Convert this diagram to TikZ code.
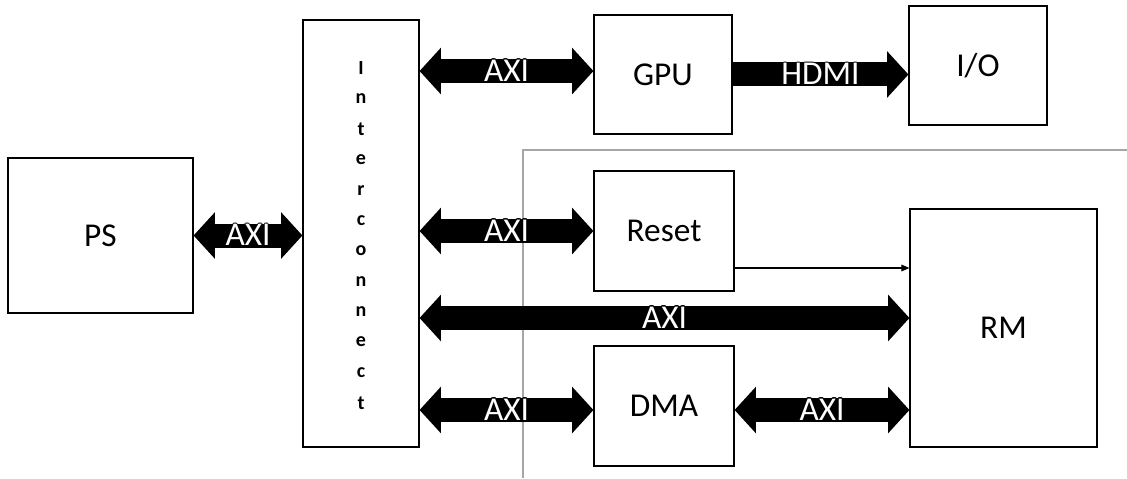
\documentclass[tikz,border=0pt]{standalone}
\usepackage{fontspec}
\setmainfont{Carlito}
\usepackage{contour}
\usetikzlibrary{arrows.meta,calc}
\contourlength{0.6pt}
\tikzset{
  blk/.style={draw, line width=0.9pt, inner sep=0pt, font=\fontsize{25}{29}\selectfont},
  tipbus/.tip={Triangle[length=16pt, width=35pt, line width=0pt]},
  bus/.style={line width=18pt, tipbus-tipbus},
  busone/.style={line width=18pt, -tipbus},
  buslbl/.style={midway, inner sep=0pt, font=\fontsize{25}{29}\selectfont}
}
\newcommand{\buslabel}[1]{\contour{black}{\textcolor{white}{#1}}}
\begin{document}
\begin{tikzpicture}
    [x=0.75pt,y=-0.75pt]
    \useasboundingbox (0,0) rectangle (1127,478);
    %region border
    \draw[gray!70, line width=1pt] (1127,150)--(523,150)--(523,478);
    %blocks
    \node[blk, minimum width=138.75pt, minimum height=116.25pt] (ps) at (100.5,235.5) {PS};
    \node[blk, minimum width=87pt, minimum height=320.25pt] (ic) at (361,233.5) {};
    \node[blk, minimum width=103.5pt, minimum height=89.25pt] (gpu) at (663,74.5) {GPU};
    \node[blk, minimum width=103.5pt, minimum height=89.25pt] (io) at (978,65.5) {I/O};
    \node[blk, minimum width=105pt, minimum height=90pt] (reset) at (664,231) {Reset};
    \node[blk, minimum width=140.25pt, minimum height=178.5pt] (rm) at (1003.5,328) {RM};
    \node[blk, minimum width=105pt, minimum height=90pt] (dma) at (664,406) {DMA};
    %interconnect label
    \foreach \ch [count=\i from 0] in {I,n,t,e,r,c,o,n,n,e,c,t}
      \node[inner sep=0pt, font=\bfseries\fontsize{15}{16}\selectfont] (ic-\i) at (361,{68.5+30.4*\i}) {\ch};
    %buses
    \coordinate (gpuin) at ([yshift=2.6pt]gpu.west);
    \coordinate (rmin) at ([yshift=7.5pt]rm.west);
    \coordinate (dmain) at ([yshift=-3pt]dma.west);
    \coordinate (rstout) at ([yshift=-27.75pt]reset.east);
    \draw[bus] (ps.east) -- (ps.east -| ic.west) node[buslbl]{\buslabel{AXI}};
    \draw[bus] (ic.east |- gpuin) -- (gpuin) node[buslbl]{\buslabel{AXI}};
    \draw[busone] (gpu.east) -- (gpu.east -| io.west) node[buslbl]{\buslabel{HDMI}};
    \draw[bus] (ic.east |- reset.west) -- (reset.west) node[buslbl]{\buslabel{AXI}};
    \draw[bus] (ic.east |- rmin) -- (rmin) node[buslbl]{\buslabel{AXI}};
    \draw[bus] (ic.east |- dmain) -- (dmain) node[buslbl]{\buslabel{AXI}};
    \draw[bus] (dmain -| dma.east) -- (dmain -| rm.west) node[buslbl]{\buslabel{AXI}};
    %reset line
    \draw[line width=0.8pt, -{Triangle[length=6pt, width=5pt]}] (rstout) -- (rstout -| rm.west);
\end{tikzpicture}
\end{document}
